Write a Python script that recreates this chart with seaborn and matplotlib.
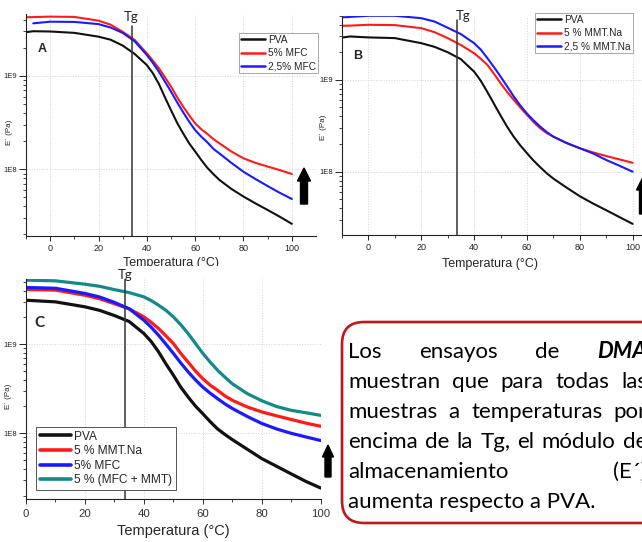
import matplotlib
matplotlib.use("Agg")
import matplotlib.pyplot as plt
import numpy as np
import pandas as pd
import seaborn as sns
from matplotlib.patches import FancyBboxPatch, FancyArrow, Rectangle
from matplotlib.transforms import IdentityTransform
from matplotlib.ticker import FixedLocator, FixedFormatter, LogLocator, NullFormatter

# ---------------- data: storage modulus E' (Pa) vs temperature (°C) ----------------
# Panel A: PVA / MFC
temp_a = [-10, -7, 0, 10, 20, 25, 30, 35, 40, 42.5, 45, 47.5, 50, 52.5, 55, 57.5,
          60, 62.5, 65, 67.5, 70, 75, 80, 85, 90, 95, 100]
pva_a = [2.95e9, 3.02e9, 3.0e9, 2.9e9, 2.64e9, 2.45e9, 2.12e9, 1.72e9, 1.31e9, 1.07e9,
         8.2e8, 5.9e8, 4.3e8, 3.16e8, 2.43e8, 1.9e8, 1.55e8, 1.26e8, 1.04e8, 8.9e7,
         7.7e7, 6.15e7, 5.1e7, 4.3e7, 3.66e7, 3.1e7, 2.6e7]
mfc5_a = [4.26e9, 4.28e9, 4.33e9, 4.3e9, 3.92e9, 3.55e9, 2.98e9, 2.43e9, 1.75e9, 1.46e9,
          1.21e9, 9.7e8, 7.7e8, 5.96e8, 4.7e8, 3.8e8, 3.1e8, 2.69e8, 2.4e8, 2.11e8,
          1.9e8, 1.55e8, 1.31e8, 1.17e8, 1.07e8, 9.8e7, 8.9e7]
temp_a_blue = [-7, 0, 10, 20, 25, 30, 35, 40, 42.5, 45, 47.5, 50, 52.5, 55, 57.5,
               60, 62.5, 65, 67.5, 70, 75, 80, 85, 90, 95, 100]
mfc25_a = [3.67e9, 3.82e9, 3.8e9, 3.6e9, 3.31e9, 2.9e9, 2.35e9, 1.68e9, 1.38e9, 1.11e9,
           8.7e8, 6.8e8, 5.25e8, 4.1e8, 3.24e8, 2.63e8, 2.24e8, 1.95e8, 1.66e8, 1.48e8,
           1.17e8, 9.4e7, 7.85e7, 6.6e7, 5.6e7, 4.8e7]
labels_a = ["PVA", "5% MFC", "2,5% MFC"]

# Panel B: PVA / MMT.Na
temp_b = [-10, -7, 0, 10, 20, 25, 30, 35, 40, 42.5, 45, 47.5, 50, 52.5, 55, 57.5,
          60, 62.5, 65, 67.5, 70, 75, 80, 85, 90, 95, 100]
pva_b = [2.89e9, 2.97e9, 2.9e9, 2.85e9, 2.51e9, 2.29e9, 2.0e9, 1.68e9, 1.23e9, 9.8e8,
         7.4e8, 5.5e8, 4.1e8, 3.09e8, 2.4e8, 1.93e8, 1.59e8, 1.32e8, 1.12e8, 9.6e7,
         8.4e7, 6.7e7, 5.4e7, 4.5e7, 3.8e7, 3.2e7, 2.7e7]
mmt5_b = [3.88e9, 3.9e9, 3.98e9, 3.95e9, 3.66e9, 3.31e9, 2.85e9, 2.4e9, 1.95e9, 1.7e9,
          1.46e9, 1.17e9, 9.2e8, 7.4e8, 6.05e8, 5.0e8, 4.15e8, 3.47e8, 2.97e8, 2.63e8,
          2.41e8, 2.05e8, 1.8e8, 1.62e8, 1.48e8, 1.36e8, 1.25e8]
mmt25_b = [4.79e9, 4.85e9, 4.99e9, 4.99e9, 4.7e9, 4.32e9, 3.7e9, 3.15e9, 2.51e9, 2.14e9,
           1.73e9, 1.38e9, 1.09e9, 8.5e8, 6.6e8, 5.25e8, 4.3e8, 3.62e8, 3.1e8, 2.7e8,
           2.4e8, 2.05e8, 1.8e8, 1.58e8, 1.34e8, 1.16e8, 1.0e8]
labels_b = ["PVA", "5 % MMT.Na", "2,5 % MMT.Na"]

# Panel C: all formulations
temp_c = [0, 10, 20, 25, 30, 35, 40, 42.5, 45, 47.5, 50, 52.5, 55, 57.5,
          60, 62.5, 65, 67.5, 70, 75, 80, 85, 90, 95, 100]
pva_c = [3.12e9, 2.99e9, 2.63e9, 2.4e9, 2.1e9, 1.8e9, 1.32e9, 1.07e9, 8.2e8, 6.0e8,
         4.5e8, 3.3e8, 2.56e8, 2.02e8, 1.66e8, 1.35e8, 1.12e8, 9.7e7, 8.5e7, 6.65e7,
         5.2e7, 4.27e7, 3.5e7, 2.88e7, 2.43e7]
mmt_c = [4.12e9, 4.05e9, 3.55e9, 3.24e9, 2.85e9, 2.5e9, 2.03e9, 1.76e9, 1.5e9, 1.24e9,
         1.02e9, 7.9e8, 6.3e8, 5.0e8, 4.1e8, 3.47e8, 3.04e8, 2.63e8, 2.35e8, 1.98e8,
         1.74e8, 1.57e8, 1.43e8, 1.3e8, 1.2e8]
mfc_c = [4.34e9, 4.25e9, 3.72e9, 3.39e9, 2.95e9, 2.5e9, 1.86e9, 1.55e9, 1.26e9, 1.0e9,
         7.9e8, 6.17e8, 4.9e8, 3.98e8, 3.3e8, 2.82e8, 2.45e8, 2.14e8, 1.9e8, 1.55e8,
         1.29e8, 1.12e8, 1.0e8, 9.1e7, 8.3e7]
mix_c = [5.24e9, 5.15e9, 4.72e9, 4.47e9, 4.1e9, 3.8e9, 3.4e9, 3.09e9, 2.74e9, 2.4e9,
         2.03e9, 1.66e9, 1.32e9, 1.02e9, 7.9e8, 6.3e8, 5.1e8, 4.27e8, 3.6e8, 2.8e8,
         2.32e8, 2.0e8, 1.81e8, 1.7e8, 1.59e8]
labels_c = ["PVA", "5 % MMT.Na", "5% MFC", "5 % (MFC + MMT)"]

tg_value = 33.7
y_major = [1e8, 1e9]
y_major_labels = ["1E8", "1E9"]
x_major = [0, 20, 40, 60, 80, 100]

summary_lines = [
    ["Los", "ensayos", "de", "DMA"],
    ["muestran", "que", "para", "todas", "las"],
    ["muestras", "a", "temperaturas", "por"],
    ["encima", "de", "la", "Tg,", "el", "módulo", "de"],
    ["almacenamiento", "(E´)"],
    ["aumenta respecto a PVA."],
]

# ---------------- style ----------------
sns.set_style("white")
plt.rcParams["font.family"] = ["Liberation Sans", "DejaVu Sans"]

W, H = 642, 542
fig = plt.figure(figsize=(W / 100, H / 100), dpi=100)
fig.patch.set_facecolor("white")

BLACK, RED, BLUE, TEAL = "#111111", "#ff1a1a", "#1a1aff", "#138a8a"


def px_axes(left, top, right, bottom, z=0):
    ax = fig.add_axes([left / W, 1 - bottom / H, (right - left) / W, (bottom - top) / H])
    ax.set_zorder(z)
    return ax


def long_frame(pairs):
    frames = []
    for name, t, e in pairs:
        frames.append(pd.DataFrame({"T": t, "E": e, "serie": name}))
    return pd.concat(frames, ignore_index=True)


def style_axes(ax, xlim, ylim, xminor, xtick_size, ytick_size):
    ax.set_yscale("log")
    ax.set_xlim(*xlim)
    ax.set_ylim(*ylim)
    ax.yaxis.set_major_locator(FixedLocator(y_major))
    ax.yaxis.set_major_formatter(FixedFormatter(y_major_labels))
    ax.yaxis.set_minor_locator(LogLocator(base=10, subs=np.arange(2, 10)))
    ax.yaxis.set_minor_formatter(NullFormatter())
    ax.xaxis.set_major_locator(FixedLocator(x_major))
    ax.xaxis.set_minor_locator(FixedLocator(xminor))
    for s in ("top", "right"):
        ax.spines[s].set_visible(False)
    for s in ("left", "bottom"):
        ax.spines[s].set_color("#222222")
        ax.spines[s].set_linewidth(0.8)
    ax.tick_params(axis="y", which="major", direction="out", length=5, width=0.7,
                   pad=1.5, labelsize=ytick_size, colors="#222222", left=True)
    ax.tick_params(axis="y", which="minor", direction="out", length=2.5, width=0.6, left=True)
    ax.tick_params(axis="x", which="major", direction="out", length=3.5, width=0.7,
                   pad=2.5, labelsize=xtick_size, colors="#222222", bottom=True)
    ax.tick_params(axis="x", which="minor", direction="out", length=2.5, width=0.6, bottom=True)
    ax.grid(True, which="major", ls=":", color="#d4d4d4", lw=0.7)
    ax.set_axisbelow(True)


def restyle_legend(ax, lw, **kw):
    handles, labels = ax.get_legend_handles_labels()
    leg = ax.legend(handles, labels, frameon=True, fancybox=False, framealpha=1,
                    handletextpad=0.3, borderaxespad=0, **kw)
    for ln in leg.get_lines():
        ln.set_linewidth(lw)
    return leg


# ---------------- panel A ----------------
axA = px_axes(26, 14, 316, 235.7, z=0)
dfA = long_frame([(labels_a[0], temp_a, pva_a), (labels_a[1], temp_a, mfc5_a),
                  (labels_a[2], temp_a_blue, mfc25_a)])
sns.lineplot(data=dfA, x="T", y="E", hue="serie", hue_order=labels_a,
             palette=[BLACK, RED, BLUE], linewidth=1.5, estimator=None, sort=False, ax=axA)
style_axes(axA, (-10, 110), (1.94e7, 4.62e9), [-10, 10, 30, 50, 70, 90], 6.5, 5.5)
axA.axvline(tg_value, ymin=0, ymax=0.945, color="#333333", lw=1.1)
axA.text(tg_value, 0.985, "Tg", transform=axA.get_xaxis_transform(), ha="center",
         va="center", fontsize=9.5, family=["Lato", "DejaVu Sans"], color="#222222")
axA.text(0.057, 0.84, "A", transform=axA.transAxes, ha="center", va="center",
         fontsize=9, fontweight="bold")
legA = restyle_legend(axA, 1.8, loc="upper left",
                      bbox_to_anchor=(213 / 290, (235.7 - 33) / 221.7),
                      fontsize=7.3, edgecolor="#9a9a9a", handlelength=2.4,
                      labelspacing=0.3, borderpad=0.2)
legA.get_frame().set_linewidth(0.6)
axA.set_xlabel("Temperatura (°C)", fontsize=9)
axA.xaxis.set_label_coords(0.5, -0.098)
axA.set_ylabel("E´ (Pa)", fontsize=5.8)
axA.yaxis.set_label_coords(-0.045, 0.465)

# ---------------- panel B ----------------
axB = px_axes(342, 15.7, 659, 235, z=0)
dfB = long_frame([(labels_b[0], temp_b, pva_b), (labels_b[1], temp_b, mmt5_b),
                  (labels_b[2], temp_b, mmt25_b)])
sns.lineplot(data=dfB, x="T", y="E", hue="serie", hue_order=labels_b,
             palette=[BLACK, RED, BLUE], linewidth=1.5, estimator=None, sort=False, ax=axB)
style_axes(axB, (-10, 110), (2.04e7, 5.0e9), [-10, 10, 30, 50, 70, 90], 6.5, 5.5)
axB.axvline(tg_value, ymin=0, ymax=0.98, color="#333333", lw=1.1)
axB.text(tg_value - 0.6, 1.0, "Tg", transform=axB.get_xaxis_transform(), ha="left",
         va="center", fontsize=9.5, family=["Lato", "DejaVu Sans"], color="#222222")
axB.text(0.05, 0.815, "B", transform=axB.transAxes, ha="center", va="center",
         fontsize=9, fontweight="bold")
legB = restyle_legend(axB, 1.8, loc="upper left",
                      bbox_to_anchor=(193 / 317, (235 - 13) / 219.3),
                      fontsize=7.3, edgecolor="#9a9a9a", handlelength=2.4,
                      labelspacing=0.3, borderpad=0.2)
legB.get_frame().set_linewidth(0.6)
axB.set_xlabel("Temperatura (°C)", fontsize=9)
axB.xaxis.set_label_coords(148 / 317, -0.103)
axB.set_ylabel("E´ (Pa)", fontsize=5.8)
axB.yaxis.set_label_coords(-0.047, 0.49)

# white backdrop under panel C (hides what lies below the top row)
fig.add_artist(Rectangle((0, 0), 336, H - 266, transform=IdentityTransform(),
                         facecolor="white", edgecolor="none", zorder=2))

# ---------------- panel C ----------------
axC = px_axes(26, 279, 320.7, 499, z=3)
dfC = long_frame([(labels_c[0], temp_c, pva_c), (labels_c[1], temp_c, mmt_c),
                  (labels_c[2], temp_c, mfc_c), (labels_c[3], temp_c, mix_c)])
sns.lineplot(data=dfC, x="T", y="E", hue="serie", hue_order=labels_c,
             palette=[BLACK, RED, BLUE, TEAL], linewidth=2.3, estimator=None, sort=False, ax=axC)
style_axes(axC, (0, 100), (1.83e7, 5.4e9), [10, 30, 50, 70, 90], 8.2, 5.5)
axC.tick_params(axis="x", which="major", pad=4, colors="#333333")
axC.axvline(tg_value, ymin=0, ymax=1.0, color="#333333", lw=1.1)
axC.text(tg_value, 1.02, "Tg", transform=axC.get_xaxis_transform(), ha="center",
         va="center", fontsize=9.5, family=["Lato", "DejaVu Sans"], color="#222222")
axC.text(0.045, 0.8, "C", transform=axC.transAxes, ha="center", va="center",
         fontsize=11, fontweight="bold", family=["Lato", "DejaVu Sans"])
legC = restyle_legend(axC, 2.6, loc="lower left",
                      bbox_to_anchor=(10 / 294.7, (499 - 490) / 220),
                      fontsize=8.6, edgecolor="#555555", handlelength=2.6,
                      labelspacing=0.22, borderpad=0.3)
legC.get_frame().set_linewidth(0.7)
axC.set_xlabel("Temperatura (°C)", fontsize=10.5)
axC.xaxis.set_label_coords(0.5, -0.115)
axC.set_ylabel("E´ (Pa)", fontsize=5.8)
axC.yaxis.set_label_coords(-0.0475, 0.465)

# ---------------- upward arrows (pixel coordinates, y measured from the top) ----------------
for cx, tail_y, tip_y, shaft, head, head_len in [
    (304, 204, 168, 7, 13, 13),
    (643, 214, 177, 7, 13, 13),
    (328, 477, 445, 6, 11, 12),
]:
    fig.add_artist(FancyArrow(cx, H - tail_y, 0, tail_y - tip_y, width=shaft,
                              head_width=head, head_length=head_len,
                              length_includes_head=True, color="black",
                              transform=IdentityTransform(), zorder=6))

# ---------------- summary box ----------------
box = FancyBboxPatch((342, H - 523), 340, 201, boxstyle="round,pad=0,rounding_size=22",
                     transform=IdentityTransform(), facecolor="white",
                     edgecolor="#c0161d", linewidth=1.9, zorder=7)
fig.add_artist(box)

renderer = fig.canvas.get_renderer()
x_left, x_right = 348, 647
baseline0, step = 358, 30
text_font = ["Lato", "DejaVu Sans"]
for i, words in enumerate(summary_lines):
    yb = 1 - (baseline0 + i * step) / H
    texts = []
    for w in words:
        bold = w == "DMA"
        t = fig.text(0, yb, w, fontsize=16, family=text_font, va="baseline", ha="left",
                     fontweight="bold" if bold else "normal",
                     fontstyle="italic" if bold else "normal", color="black", zorder=8)
        texts.append(t)
    if len(texts) == 1:
        texts[0].set_x(x_left / W)
        continue
    widths = [t.get_window_extent(renderer).width for t in texts]
    gap = (x_right - x_left - sum(widths)) / (len(texts) - 1)
    x = x_left
    for t, wdt in zip(texts, widths):
        t.set_x(x / W)
        x += wdt + gap

fig.savefig("out.png", dpi=100)
